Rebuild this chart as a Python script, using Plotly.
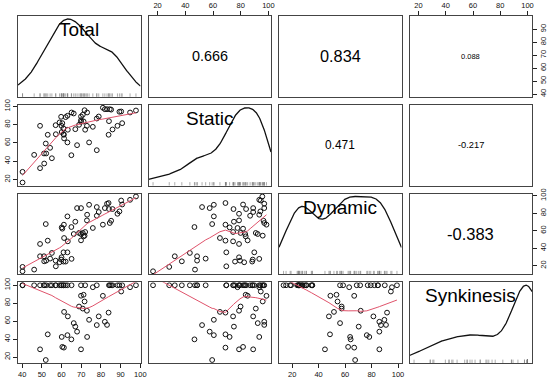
import numpy as np
import plotly.graph_objects as go

# ---------------- data ----------------
names = ["Total", "Static", "Dynamic", "Synkinesis"]

total = [40.2, 40.2, 46.1, 49.1, 49.1, 51.1, 51.2, 52.0, 52.2, 53.0, 54.2, 55.1, 57.0, 57.1,
         59.0, 59.8, 60.0, 60.4, 60.1, 61.0, 61.0, 61.2, 61.3, 62.1, 63.0, 63.0, 63.2, 65.0,
         65.1, 66.2, 67.0, 67.9, 68.9, 69.9, 69.9, 69.9, 70.8, 71.2, 71.7, 72.0, 72.9, 73.0,
         74.0, 75.9, 77.9, 77.9, 78.9, 81.0, 82.0, 83.1, 83.9, 84.1, 84.5, 85.2, 85.9, 88.4,
         89.4, 90.3, 90.8, 94.8, 97.8]
static = [28.4, 16.7, 47.0, 78.8, 32.4, 48.5, 37.5, 59.4, 48.5, 69.0, 54.7, 43.3, 79.5, 69.6,
          82.5, 88.7, 78.8, 81.7, 72.0, 69.6, 75.9, 69.0, 65.0, 88.3, 89.8, 60.6, 74.5, 46.6,
          93.4, 92.3, 75.1, 57.6, 79.9, 89.0, 83.2, 85.0, 90.9, 83.6, 95.9, 74.5, 78.8, 93.4,
          60.6, 77.7, 52.1, 86.8, 89.0, 98.6, 97.0, 97.0, 69.0, 83.9, 97.0, 96.5, 74.8, 78.8,
          94.2, 94.5, 81.7, 93.4, 95.6]
dynamic = [18.5, 13.5, 15.4, 44.8, 30.7, 30.7, 24.9, 67.6, 25.7, 48.6, 28.0, 34.5, 25.7, 19.2,
           23.8, 26.9, 29.5, 62.3, 63.8, 35.2, 24.6, 66.9, 51.6, 24.6, 35.2, 76.4, 47.8, 64.2,
           27.7, 56.2, 70.3, 85.9, 57.4, 85.9, 56.2, 48.9, 57.4, 53.5, 54.3, 58.5, 71.8, 78.3,
           89.7, 63.1, 87.1, 77.1, 81.4, 66.9, 85.9, 90.9, 91.7, 84.8, 68.8, 71.4, 84.8, 79.4,
           82.1, 94.6, 90.0, 95.4, 99.2]
synkinesis = [100, 100, 100, 28.6, 100, 100, 100, 16.7, 100, 45.3, 100, 100, 100, 100,
              100, 100, 100, 31.3, 42.4, 100, 100, 30.5, 70.3, 100, 100, 44.4, 65.3, 39.7,
              100, 57.8, 53.9, 48.3, 76.3, 28.6, 100, 88.3, 74.0, 89.4, 81.9, 100, 71.6, 42.4,
              61.5, 97.8, 55.6, 100, 65.3, 88.2, 59.3, 55.8, 69.5, 100, 100, 100, 100, 100,
              100, 93.0, 100, 97.8, 100]

corr_pairs = [(0, 1), (0, 2), (0, 3), (1, 2), (1, 3), (2, 3)]
corr_labels = ["0.666", "0.834", "0.088", "0.471", "-0.217", "-0.383"]

x_tickvals = [[40, 50, 60, 70, 80, 90, 100], [20, 40, 60, 80, 100],
              [20, 40, 60, 80, 100], [20, 40, 60, 80, 100]]
y_tickvals = [[40, 50, 60, 70, 80, 90], [20, 40, 60, 80, 100],
              [20, 40, 60, 80, 100], [20, 40, 60, 80, 100]]

# ---------------- style ----------------
W, H = 550, 382
col_px = [(18, 140.5), (148.5, 271), (279, 401.5), (409.5, 532)]
row_px = [(16, 96.75), (104.75, 185.5), (193.5, 274.25), (282.25, 363)]
corr_sizes = [14.4, 16.3, 7.5, 11.9, 9.3, 16.5]
FONT = "Liberation Sans, Arial, Helvetica, sans-serif"
FRAME = "#444444"
SMOOTH = "#DF536B"

data = [np.array(v, float) for v in (total, static, dynamic, synkinesis)]


def rng(v):
    lo, hi = v.min(), v.max()
    r = hi - lo
    return [lo - 0.04 * r, hi + 0.04 * r]


def lowess(x, y, f=2 / 3, it=3):
    o = np.argsort(x, kind="mergesort")
    x, y = x[o], y[o]
    n = len(x)
    ns = max(2, min(n, int(f * n + 1e-7)))
    rw = np.ones(n)
    ys = np.zeros(n)
    for k in range(it + 1):
        for i in range(n):
            d = np.abs(x - x[i])
            h = np.sort(d)[ns - 1]
            w = np.zeros(n)
            if h > 0:
                u = d / h
                m = u < 0.999
                w[m] = (1 - u[m] ** 3) ** 3
                w[u <= 0.001] = 1.0
            else:
                w[d == 0] = 1.0
            w = w * rw
            if w.sum() <= 0:
                ys[i] = y[i]
                continue
            w = w / w.sum()
            a = np.sum(w * x)
            c = np.sum(w * (x - a) ** 2)
            if np.sqrt(c) > 0.001 * (x[-1] - x[0]):
                b = (x[i] - a) / c
                ww = w * (b * (x - a) + 1)
            else:
                ww = w
            ys[i] = np.sum(ww * y)
        if k == it:
            break
        res = y - ys
        cmad = 6 * np.median(np.abs(res))
        if cmad < 1e-7 * np.mean(np.abs(y)):
            break
        r = np.abs(res) / cmad
        rw = np.where(r < 0.999, (1 - r ** 2) ** 2, 0.0)
        rw[r <= 0.001] = 1.0
    return x, ys


def bandwidth(v):
    n = len(v)
    sd = v.std(ddof=1)
    iqr = np.percentile(v, 75) - np.percentile(v, 25)
    return 0.9 * min(sd, iqr / 1.34) * n ** (-0.2)


def density(v, grid, bw):
    n = len(v)
    z = (grid[:, None] - v[None, :]) / bw
    return np.exp(-0.5 * z ** 2).sum(axis=1) / (n * bw * np.sqrt(2 * np.pi))


fig = go.Figure()
layout = {}
annotations = []
ranges = [rng(v) for v in data]

for i in range(4):
    for j in range(4):
        k = i * 4 + j + 1
        xs = "" if k == 1 else str(k)
        xa, ya = "xaxis" + xs, "yaxis" + xs
        xref, yref = "x" + xs, "y" + xs
        x0, x1 = col_px[j]
        y0, y1 = row_px[i]
        xaxis = dict(domain=[x0 / W, x1 / W], anchor=yref, range=ranges[j],
                     showline=True, mirror=True, linecolor=FRAME, linewidth=1.3,
                     showgrid=False, zeroline=False, ticks="", showticklabels=False,
                     fixedrange=True, automargin=False)
        yaxis = dict(domain=[1 - y1 / H, 1 - y0 / H], anchor=xref, range=ranges[i],
                     showline=True, mirror=True, linecolor=FRAME, linewidth=1.3,
                     showgrid=False, zeroline=False, ticks="", showticklabels=False,
                     fixedrange=True, automargin=False)
        tick_style = dict(ticks="outside", ticklen=4, tickwidth=1, tickcolor="#222",
                          showticklabels=True,
                          tickfont=dict(family=FONT, size=7.5, color="#111"))
        if (i == 3 and j in (0, 2)) or (i == 0 and j in (1, 3)):
            xaxis.update(tick_style, side="bottom" if i == 3 else "top",
                         tickmode="array", tickvals=x_tickvals[j])
        if (j == 0 and i in (1, 3)) or (j == 3 and i in (0, 2)):
            yaxis.update(tick_style, side="left" if j == 0 else "right",
                         tickmode="array", tickvals=y_tickvals[i], tickangle=-90)

        if i == j:
            v = data[i]
            bw = bandwidth(v)
            grid = np.linspace(ranges[i][0], ranges[i][1], 400)
            dens = density(v, grid, bw)
            full = np.linspace(v.min() - 3 * bw, v.max() + 3 * bw, 512)
            M = density(v, full, bw).max()
            ylo, yhi = -0.04 * M, 1.04 * M
            yaxis["range"] = [ylo, yhi]
            fig.add_trace(go.Scatter(x=grid, y=dens, mode="lines",
                                     line=dict(color="#111", width=1.3),
                                     xaxis=xref, yaxis=yref, hoverinfo="skip",
                                     showlegend=False))
            span = yhi - ylo
            fig.add_trace(go.Scatter(x=v, y=np.full(len(v), ylo + span * 1.4 / 80.75),
                                     mode="markers",
                                     marker=dict(symbol="line-ns", size=2.8,
                                                 line=dict(color="#777", width=0.6)),
                                     xaxis=xref, yaxis=yref, hoverinfo="skip",
                                     showlegend=False))
            annotations.append(dict(text=names[i], x=0.5, y=0.83,
                                    xref=xref + " domain", yref=yref + " domain",
                                    xanchor="center", yanchor="middle", showarrow=False,
                                    font=dict(family=FONT, size=19, color="#000")))
        elif i > j:
            xv, yv = data[j], data[i]
            fig.add_trace(go.Scatter(x=xv, y=yv, mode="markers",
                                     marker=dict(symbol="circle-open", size=4.8,
                                                 color="#111", line=dict(width=1)),
                                     xaxis=xref, yaxis=yref, hoverinfo="skip",
                                     showlegend=False))
            lx, ly = lowess(xv, yv)
            fig.add_trace(go.Scatter(x=lx, y=ly, mode="lines",
                                     line=dict(color=SMOOTH, width=1),
                                     xaxis=xref, yaxis=yref, hoverinfo="skip",
                                     showlegend=False))
        else:
            # empty trace so the panel (frame and axes) is drawn
            fig.add_trace(go.Scatter(x=[ranges[j][0]], y=[ranges[i][0]], mode="markers",
                                     marker=dict(size=1, opacity=0),
                                     xaxis=xref, yaxis=yref, hoverinfo="skip",
                                     showlegend=False))
            idx = corr_pairs.index((i, j))
            annotations.append(dict(text=corr_labels[idx], x=0.5, y=0.5,
                                    xref=xref + " domain", yref=yref + " domain",
                                    xanchor="center", yanchor="middle", showarrow=False,
                                    font=dict(family=FONT, size=corr_sizes[idx],
                                              color="#000")))
        layout[xa] = xaxis
        layout[ya] = yaxis

fig.update_layout(**layout)
fig.update_layout(width=W, height=H, margin=dict(l=0, r=0, t=0, b=0, autoexpand=False),
                  paper_bgcolor="white", plot_bgcolor="white",
                  annotations=annotations, showlegend=False,
                  font=dict(family=FONT))
fig.write_html("out.html", config={"displayModeBar": False},
               post_script="document.body.style.margin='0px';"
                           "document.body.style.overflow='hidden';")
